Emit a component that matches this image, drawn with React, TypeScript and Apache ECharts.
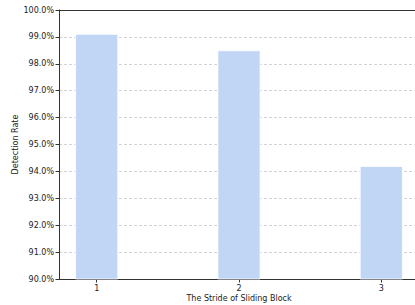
import React, { useEffect, useRef } from "react";
import * as echarts from "echarts";

const strides = [1, 2, 3];
const detectionRates = [99.11, 98.5, 94.2];
const yMin = 90;
const yMax = 100;

export default function App() {
  const ref = useRef<HTMLDivElement>(null);
  useEffect(() => {
    if (!ref.current) return;
    const chart = echarts.init(ref.current, undefined, { renderer: "svg" });
    const font = "DejaVu Sans";
    chart.setOption({
      animation: false,
      backgroundColor: "#ffffff",
      textStyle: { fontFamily: font },
      grid: {
        left: 59,
        top: 10,
        width: 360,
        height: 269,
        containLabel: false,
        outerBoundsMode: "none",
        show: false,
      },
      xAxis: [
        {
          type: "value",
          min: 0.735,
          max: 3.265,
          name: "The Stride of Sliding Block",
          nameLocation: "middle",
          nameGap: 15,
          nameMoveOverlap: false,
          nameTextStyle: { fontFamily: font, fontSize: 8, color: "#222" },
          axisLine: { show: true, lineStyle: { color: "#333", width: 1 } },
          axisTick: { show: true, customValues: strides, length: 3.5, lineStyle: { color: "#333" } },
          axisLabel: {
            customValues: strides,
            fontFamily: font,
            fontSize: 8,
            color: "#222",
            margin: 5,
            formatter: (v: number) => String(v),
          },
          splitLine: { show: false },
        },
        {
          type: "value",
          position: "top",
          min: 0.735,
          max: 3.265,
          axisLine: { show: true, lineStyle: { color: "#333", width: 1 } },
          axisTick: { show: false },
          axisLabel: { show: false },
          splitLine: { show: false },
        },
      ],
      yAxis: {
        type: "value",
        min: yMin,
        max: yMax,
        interval: 1,
        name: "Detection Rate",
        nameLocation: "middle",
        nameGap: 40,
        nameMoveOverlap: false,
        nameRotate: 90,
        nameTextStyle: { fontFamily: font, fontSize: 8, color: "#222" },
        axisLine: { show: true, lineStyle: { color: "#333", width: 1 } },
        axisTick: { show: true, length: 3.5, lineStyle: { color: "#333" } },
        axisLabel: {
          fontFamily: font,
          fontSize: 8,
          color: "#222",
          margin: 5,
          formatter: (v: number) => v.toFixed(1) + "%",
        },
        splitLine: { show: true, lineStyle: { color: "#c8c8c8", type: [3, 2], width: 0.8 } },
      },
      series: [
        {
          type: "bar",
          xAxisIndex: 0,
          data: strides.map((s, i) => [s, detectionRates[i]]),
          barWidth: 43,
          itemStyle: { color: "#c1d6f5", borderColor: "#ffffff", borderWidth: 0.8 },
        },
      ],
    });
    return () => chart.dispose();
  }, []);
  return (
    <div
      style={{
        position: "absolute",
        left: 0,
        top: 0,
        width: 415,
        height: 305,
        overflow: "hidden",
        background: "#ffffff",
      }}
    >
      <div ref={ref} style={{ width: 430, height: 305 }} />
    </div>
  );
}
